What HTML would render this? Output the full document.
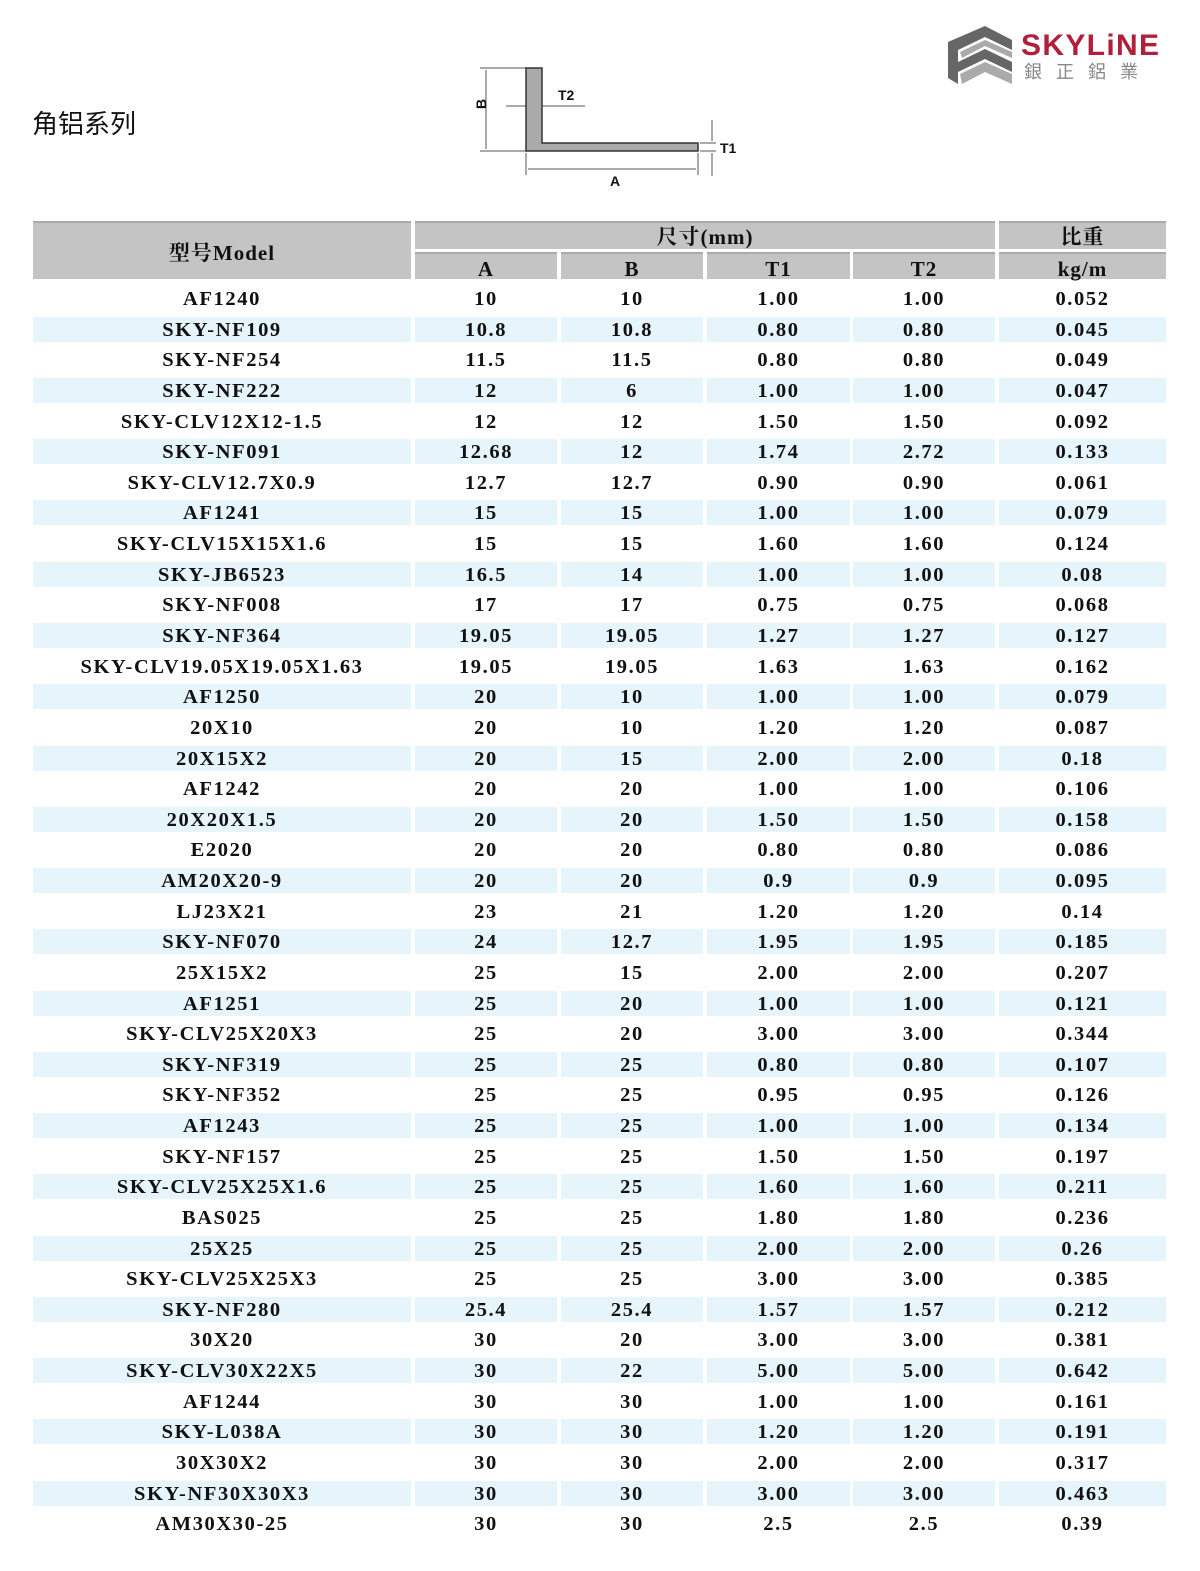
<!DOCTYPE html>
<html><head><meta charset="utf-8"><style>
body{margin:0;background:#fff;width:1200px;height:1571px;position:relative;overflow:hidden;font-family:"Liberation Serif","Noto Serif CJK SC",serif;}
.t{position:absolute;color:#111}
.hd{position:absolute;background:#c4c4c4;border-top:2px solid #aaa;box-sizing:border-box;text-align:center;font-weight:bold;font-size:21px;color:#111;letter-spacing:1px}
.row{position:absolute;left:0;width:1200px;height:30.63px}
.c{position:absolute;top:4px;height:25px;line-height:27px;text-align:center;font-size:20.5px;color:#111;font-weight:bold;letter-spacing:1.6px}
.b .c{background:#e6f4fc}
.c1{left:33px;width:378px}.c2{left:415px;width:142px}.c3{left:561px;width:142px}.c4{left:707px;width:143px}.c5{left:853px;width:142px}.c6{left:999px;width:167px}
</style></head><body>
<div class="t" style="left:32px;top:104px;font-size:26px;font-family:'Liberation Sans','Noto Sans CJK SC',sans-serif;">角铝系列</div>
<svg style="position:absolute;left:0;top:0" width="1200" height="200">
<g stroke="#555" stroke-width="1" fill="none">
<line x1="480" y1="68" x2="526" y2="68"/><line x1="480" y1="151" x2="526" y2="151"/>
<line x1="486" y1="70" x2="486" y2="149"/>
<line x1="506" y1="106" x2="526" y2="106"/><line x1="542" y1="106" x2="585" y2="106"/>
<line x1="526" y1="153" x2="526" y2="175"/><line x1="698" y1="153" x2="698" y2="175"/>
<line x1="528" y1="169" x2="696" y2="169"/>
<line x1="700" y1="143" x2="716" y2="143"/><line x1="700" y1="151" x2="716" y2="151"/>
<line x1="712" y1="120" x2="712" y2="141"/><line x1="712" y1="153" x2="712" y2="176"/>
</g>
<path d="M526 68H542V143H698V151H526Z" fill="#aaa" stroke="#333" stroke-width="1.5"/>
<g font-family="Liberation Sans,sans-serif" font-weight="bold" font-size="14" fill="#111">
<text x="558" y="100">T2</text><text x="720" y="153">T1</text><text x="610" y="186">A</text>
<text x="481" y="114" transform="rotate(-90 481 109)">B</text></g>
<g>
<path d="M948 42L985 26L1012 40V50L985 37L958 50V62L985 49L1012 62V72L985 59L958 72V84L948 78Z" fill="#666"/>
<path d="M960 52L985 40L1012 52V58L985 46L962 58Z M960 74L985 62L1012 74V84L985 72L962 84Z" fill="#aaa"/>
</g>
<text x="1021" y="55" font-family="Liberation Sans,sans-serif" font-weight="bold" font-size="30" fill="#b0203a" textLength="138">SKYLiNE</text>
<text x="1024" y="78" font-family="Noto Sans CJK TC,sans-serif" font-size="18" fill="#888" letter-spacing="14">銀正鋁業</text>
</svg>
<div class="hd" style="left:33px;top:221px;width:378px;height:58px;line-height:60px">型号Model</div>
<div class="hd" style="left:415px;top:221px;width:580px;height:28px;line-height:28px">尺寸(mm)</div>
<div class="hd" style="left:999px;top:221px;width:167px;height:28px;line-height:28px">比重</div>
<div class="hd" style="left:415px;top:252px;width:142px;height:27px;line-height:30px">A</div>
<div class="hd" style="left:561px;top:252px;width:142px;height:27px;line-height:30px">B</div>
<div class="hd" style="left:707px;top:252px;width:143px;height:27px;line-height:30px">T1</div>
<div class="hd" style="left:853px;top:252px;width:142px;height:27px;line-height:30px">T2</div>
<div class="hd" style="left:999px;top:252px;width:167px;height:27px;line-height:30px">kg/m</div>
<div id="rows">
<div class="row" style="top:282px"><div class="c c1">AF1240</div><div class="c c2">10</div><div class="c c3">10</div><div class="c c4">1.00</div><div class="c c5">1.00</div><div class="c c6">0.052</div></div>
<div class="row b" style="top:312.6px"><div class="c c1">SKY-NF109</div><div class="c c2">10.8</div><div class="c c3">10.8</div><div class="c c4">0.80</div><div class="c c5">0.80</div><div class="c c6">0.045</div></div>
<div class="row" style="top:343.3px"><div class="c c1">SKY-NF254</div><div class="c c2">11.5</div><div class="c c3">11.5</div><div class="c c4">0.80</div><div class="c c5">0.80</div><div class="c c6">0.049</div></div>
<div class="row b" style="top:373.9px"><div class="c c1">SKY-NF222</div><div class="c c2">12</div><div class="c c3">6</div><div class="c c4">1.00</div><div class="c c5">1.00</div><div class="c c6">0.047</div></div>
<div class="row" style="top:404.5px"><div class="c c1">SKY-CLV12X12-1.5</div><div class="c c2">12</div><div class="c c3">12</div><div class="c c4">1.50</div><div class="c c5">1.50</div><div class="c c6">0.092</div></div>
<div class="row b" style="top:435.2px"><div class="c c1">SKY-NF091</div><div class="c c2">12.68</div><div class="c c3">12</div><div class="c c4">1.74</div><div class="c c5">2.72</div><div class="c c6">0.133</div></div>
<div class="row" style="top:465.8px"><div class="c c1">SKY-CLV12.7X0.9</div><div class="c c2">12.7</div><div class="c c3">12.7</div><div class="c c4">0.90</div><div class="c c5">0.90</div><div class="c c6">0.061</div></div>
<div class="row b" style="top:496.4px"><div class="c c1">AF1241</div><div class="c c2">15</div><div class="c c3">15</div><div class="c c4">1.00</div><div class="c c5">1.00</div><div class="c c6">0.079</div></div>
<div class="row" style="top:527px"><div class="c c1">SKY-CLV15X15X1.6</div><div class="c c2">15</div><div class="c c3">15</div><div class="c c4">1.60</div><div class="c c5">1.60</div><div class="c c6">0.124</div></div>
<div class="row b" style="top:557.7px"><div class="c c1">SKY-JB6523</div><div class="c c2">16.5</div><div class="c c3">14</div><div class="c c4">1.00</div><div class="c c5">1.00</div><div class="c c6">0.08</div></div>
<div class="row" style="top:588.3px"><div class="c c1">SKY-NF008</div><div class="c c2">17</div><div class="c c3">17</div><div class="c c4">0.75</div><div class="c c5">0.75</div><div class="c c6">0.068</div></div>
<div class="row b" style="top:618.9px"><div class="c c1">SKY-NF364</div><div class="c c2">19.05</div><div class="c c3">19.05</div><div class="c c4">1.27</div><div class="c c5">1.27</div><div class="c c6">0.127</div></div>
<div class="row" style="top:649.6px"><div class="c c1">SKY-CLV19.05X19.05X1.63</div><div class="c c2">19.05</div><div class="c c3">19.05</div><div class="c c4">1.63</div><div class="c c5">1.63</div><div class="c c6">0.162</div></div>
<div class="row b" style="top:680.2px"><div class="c c1">AF1250</div><div class="c c2">20</div><div class="c c3">10</div><div class="c c4">1.00</div><div class="c c5">1.00</div><div class="c c6">0.079</div></div>
<div class="row" style="top:710.8px"><div class="c c1">20X10</div><div class="c c2">20</div><div class="c c3">10</div><div class="c c4">1.20</div><div class="c c5">1.20</div><div class="c c6">0.087</div></div>
<div class="row b" style="top:741.5px"><div class="c c1">20X15X2</div><div class="c c2">20</div><div class="c c3">15</div><div class="c c4">2.00</div><div class="c c5">2.00</div><div class="c c6">0.18</div></div>
<div class="row" style="top:772.1px"><div class="c c1">AF1242</div><div class="c c2">20</div><div class="c c3">20</div><div class="c c4">1.00</div><div class="c c5">1.00</div><div class="c c6">0.106</div></div>
<div class="row b" style="top:802.7px"><div class="c c1">20X20X1.5</div><div class="c c2">20</div><div class="c c3">20</div><div class="c c4">1.50</div><div class="c c5">1.50</div><div class="c c6">0.158</div></div>
<div class="row" style="top:833.3px"><div class="c c1">E2020</div><div class="c c2">20</div><div class="c c3">20</div><div class="c c4">0.80</div><div class="c c5">0.80</div><div class="c c6">0.086</div></div>
<div class="row b" style="top:864px"><div class="c c1">AM20X20-9</div><div class="c c2">20</div><div class="c c3">20</div><div class="c c4">0.9</div><div class="c c5">0.9</div><div class="c c6">0.095</div></div>
<div class="row" style="top:894.6px"><div class="c c1">LJ23X21</div><div class="c c2">23</div><div class="c c3">21</div><div class="c c4">1.20</div><div class="c c5">1.20</div><div class="c c6">0.14</div></div>
<div class="row b" style="top:925.2px"><div class="c c1">SKY-NF070</div><div class="c c2">24</div><div class="c c3">12.7</div><div class="c c4">1.95</div><div class="c c5">1.95</div><div class="c c6">0.185</div></div>
<div class="row" style="top:955.9px"><div class="c c1">25X15X2</div><div class="c c2">25</div><div class="c c3">15</div><div class="c c4">2.00</div><div class="c c5">2.00</div><div class="c c6">0.207</div></div>
<div class="row b" style="top:986.5px"><div class="c c1">AF1251</div><div class="c c2">25</div><div class="c c3">20</div><div class="c c4">1.00</div><div class="c c5">1.00</div><div class="c c6">0.121</div></div>
<div class="row" style="top:1017.1px"><div class="c c1">SKY-CLV25X20X3</div><div class="c c2">25</div><div class="c c3">20</div><div class="c c4">3.00</div><div class="c c5">3.00</div><div class="c c6">0.344</div></div>
<div class="row b" style="top:1047.8px"><div class="c c1">SKY-NF319</div><div class="c c2">25</div><div class="c c3">25</div><div class="c c4">0.80</div><div class="c c5">0.80</div><div class="c c6">0.107</div></div>
<div class="row" style="top:1078.4px"><div class="c c1">SKY-NF352</div><div class="c c2">25</div><div class="c c3">25</div><div class="c c4">0.95</div><div class="c c5">0.95</div><div class="c c6">0.126</div></div>
<div class="row b" style="top:1109px"><div class="c c1">AF1243</div><div class="c c2">25</div><div class="c c3">25</div><div class="c c4">1.00</div><div class="c c5">1.00</div><div class="c c6">0.134</div></div>
<div class="row" style="top:1139.6px"><div class="c c1">SKY-NF157</div><div class="c c2">25</div><div class="c c3">25</div><div class="c c4">1.50</div><div class="c c5">1.50</div><div class="c c6">0.197</div></div>
<div class="row b" style="top:1170.3px"><div class="c c1">SKY-CLV25X25X1.6</div><div class="c c2">25</div><div class="c c3">25</div><div class="c c4">1.60</div><div class="c c5">1.60</div><div class="c c6">0.211</div></div>
<div class="row" style="top:1200.9px"><div class="c c1">BAS025</div><div class="c c2">25</div><div class="c c3">25</div><div class="c c4">1.80</div><div class="c c5">1.80</div><div class="c c6">0.236</div></div>
<div class="row b" style="top:1231.5px"><div class="c c1">25X25</div><div class="c c2">25</div><div class="c c3">25</div><div class="c c4">2.00</div><div class="c c5">2.00</div><div class="c c6">0.26</div></div>
<div class="row" style="top:1262.2px"><div class="c c1">SKY-CLV25X25X3</div><div class="c c2">25</div><div class="c c3">25</div><div class="c c4">3.00</div><div class="c c5">3.00</div><div class="c c6">0.385</div></div>
<div class="row b" style="top:1292.8px"><div class="c c1">SKY-NF280</div><div class="c c2">25.4</div><div class="c c3">25.4</div><div class="c c4">1.57</div><div class="c c5">1.57</div><div class="c c6">0.212</div></div>
<div class="row" style="top:1323.4px"><div class="c c1">30X20</div><div class="c c2">30</div><div class="c c3">20</div><div class="c c4">3.00</div><div class="c c5">3.00</div><div class="c c6">0.381</div></div>
<div class="row b" style="top:1354.1px"><div class="c c1">SKY-CLV30X22X5</div><div class="c c2">30</div><div class="c c3">22</div><div class="c c4">5.00</div><div class="c c5">5.00</div><div class="c c6">0.642</div></div>
<div class="row" style="top:1384.7px"><div class="c c1">AF1244</div><div class="c c2">30</div><div class="c c3">30</div><div class="c c4">1.00</div><div class="c c5">1.00</div><div class="c c6">0.161</div></div>
<div class="row b" style="top:1415.3px"><div class="c c1">SKY-L038A</div><div class="c c2">30</div><div class="c c3">30</div><div class="c c4">1.20</div><div class="c c5">1.20</div><div class="c c6">0.191</div></div>
<div class="row" style="top:1445.9px"><div class="c c1">30X30X2</div><div class="c c2">30</div><div class="c c3">30</div><div class="c c4">2.00</div><div class="c c5">2.00</div><div class="c c6">0.317</div></div>
<div class="row b" style="top:1476.6px"><div class="c c1">SKY-NF30X30X3</div><div class="c c2">30</div><div class="c c3">30</div><div class="c c4">3.00</div><div class="c c5">3.00</div><div class="c c6">0.463</div></div>
<div class="row" style="top:1507.2px"><div class="c c1">AM30X30-25</div><div class="c c2">30</div><div class="c c3">30</div><div class="c c4">2.5</div><div class="c c5">2.5</div><div class="c c6">0.39</div></div>
</div>
</body></html>
